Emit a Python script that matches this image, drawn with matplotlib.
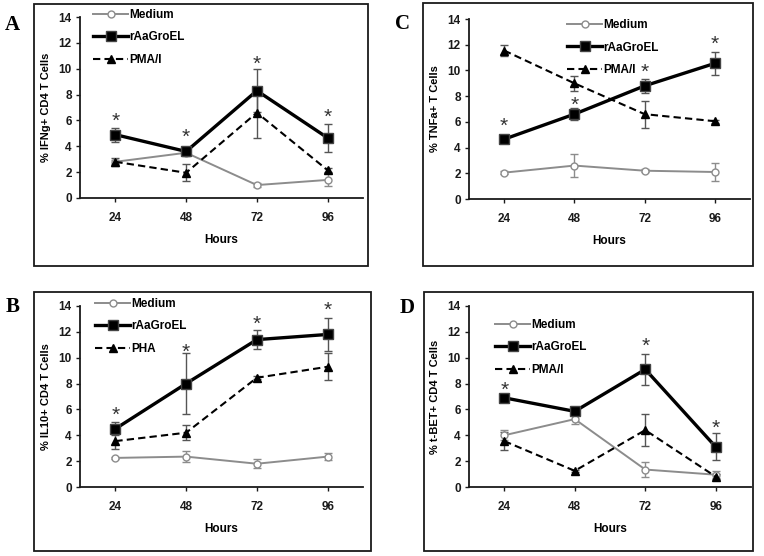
import numpy as np
import matplotlib
matplotlib.use("Agg")
import matplotlib.pyplot as plt
from matplotlib.patches import Rectangle

plt.rcParams['font.family'] = ['Liberation Sans', 'DejaVu Sans']
plt.rcParams['font.weight'] = 'bold'

hours = ['24', '48', '72', '96']

# panel A : IFNg
ifng_medium = [2.8, 3.5, 1.0, 1.4]
ifng_medium_err = [0.15, 0.15, 0.15, 0.5]
ifng_groel = [4.9, 3.6, 8.3, 4.65]
ifng_groel_err = [0.55, 0.35, 1.65, 1.1]
ifng_pma = [2.8, 1.95, 6.6, 2.15]
ifng_pma_err = [0.3, 0.65, 1.95, 0.15]
ifng_stars = [6.37, 5.15, 10.8, 6.7]

# panel C : TNFa
tnfa_medium = [2.05, 2.6, 2.2, 2.1]
tnfa_medium_err = [0.1, 0.9, 0.12, 0.7]
tnfa_groel = [4.65, 6.6, 8.8, 10.55]
tnfa_groel_err = [0.15, 0.45, 0.55, 0.9]
tnfa_pma = [11.55, 9.0, 6.6, 6.05]
tnfa_pma_err = [0.45, 0.6, 1.05, 0.1]
tnfa_stars = [6.09, 7.75, 10.3, 12.5]

# panel B : IL10
il10_medium = [2.25, 2.35, 1.8, 2.35]
il10_medium_err = [0.1, 0.45, 0.35, 0.3]
il10_groel = [4.5, 8.0, 11.4, 11.8]
il10_groel_err = [0.5, 2.35, 0.75, 1.3]
il10_pha = [3.55, 4.2, 8.45, 9.3]
il10_pha_err = [0.6, 0.6, 0.1, 1.05]
il10_stars = [6.0, 10.85, 13.05, 14.1]

# panel D : t-BET
tbet_medium = [4.0, 5.25, 1.35, 0.95]
tbet_medium_err = [0.4, 0.4, 0.55, 0.25]
tbet_groel = [6.9, 5.85, 9.1, 3.1]
tbet_groel_err = [0.2, 0.1, 1.2, 1.05]
tbet_pma = [3.55, 1.25, 4.4, 0.8]
tbet_pma_err = [0.7, 0.1, 1.25, 0.2]
tbet_stars = [7.88, None, 11.3, 4.96]

W, H = 764, 556
fig = plt.figure(figsize=(W / 100, H / 100), dpi=100)
fig.patch.set_facecolor('white')


def px_rect(x0, y0, x1, y1):
    # pixel box (top-left origin) -> figure fraction
    return [x0 / W, 1 - y1 / H, (x1 - x0) / W, (y1 - y0) / H]


def draw_panel(rect, frame, letter, letter_xy, ylabel, medium, medium_err,
               groel, groel_err, third, third_err, third_name, stars, leg_anchor):
    fig.patches.append(Rectangle((frame[0] / W, 1 - frame[3] / H),
                                 (frame[2] - frame[0]) / W, (frame[3] - frame[1]) / H,
                                 transform=fig.transFigure, fill=False,
                                 edgecolor='#1a1a1a', linewidth=1.3))
    fig.text(letter_xy[0] / W, 1 - letter_xy[1] / H, letter, family='Liberation Serif',
             fontsize=15, fontweight='bold', ha='center', va='center')

    ax = fig.add_axes(px_rect(*rect))
    x = np.arange(len(hours))
    # error bars first, lines on top
    ax.errorbar(x, medium, yerr=medium_err, fmt='none', ecolor='#8c8c8c',
                elinewidth=1.0, capsize=3, capthick=1.0)
    ax.errorbar(x, groel, yerr=groel_err, fmt='none', ecolor='#555555',
                elinewidth=1.0, capsize=3, capthick=1.0)
    ax.errorbar(x, third, yerr=third_err, fmt='none', ecolor='#555555',
                elinewidth=1.0, capsize=3, capthick=1.0)
    ax.plot(x, medium, color='#8c8c8c', lw=1.4, marker='o', ms=5, mfc='white',
            mec='#8c8c8c', mew=1.0, label='Medium')
    ax.plot(x, groel, color='black', lw=2.4, marker='s', ms=7, mfc='black',
            mec='#444444', label='rAaGroEL')
    ax.plot(x, third, color='black', lw=1.5, ls=(0, (3.5, 2)), marker='^',
            ms=5.5, mfc='black', mec='black', label=third_name)
    for xi, s in zip(x, stars):
        if s is not None:
            ax.annotate('*', (xi, s), xytext=(0, -4), textcoords='offset points',
                        ha='center', va='center', fontsize=15, fontweight='normal',
                        color='#333333', annotation_clip=False)

    ax.set_xlim(-0.5, 3.5)
    ax.set_ylim(0, 14)
    ax.set_yticks(range(0, 15, 2))
    ax.set_xticks(x)
    ax.set_xticklabels(hours)
    for side in ['top', 'right']:
        ax.spines[side].set_visible(False)
    for side in ['left', 'bottom']:
        ax.spines[side].set_linewidth(1.3)
        ax.spines[side].set_color('#1a1a1a')
    ax.tick_params(axis='both', direction='out', length=3, width=1.0,
                   labelsize=8.5, colors='#1a1a1a')
    ax.tick_params(axis='x', pad=7)
    ax.tick_params(axis='y', pad=3)
    ax.set_xlabel('Hours', fontsize=8.5, fontweight='bold', labelpad=7)
    ax.set_ylabel(ylabel, fontsize=8, fontweight='bold', labelpad=5)

    leg = ax.legend(loc='upper left', bbox_to_anchor=leg_anchor, frameon=False,
                    fontsize=8.5, handlelength=3.0, handletextpad=0.1,
                    labelspacing=0.9, borderpad=0, borderaxespad=0)
    for t in leg.get_texts():
        t.set_fontweight('bold')
    return ax


draw_panel((80, 17, 363, 198), (34, 4, 368, 266), 'A', (12.5, 25),
           '% IFNg+ CD4 T Cells', ifng_medium, ifng_medium_err,
           ifng_groel, ifng_groel_err, ifng_pma, ifng_pma_err, 'PMA/I',
           ifng_stars, (0.046, 1.045))

draw_panel((469, 19, 750, 199), (423, 3, 753, 266), 'C', (402, 24),
           '% TNFa+ T Cells', tnfa_medium, tnfa_medium_err,
           tnfa_groel, tnfa_groel_err, tnfa_pma, tnfa_pma_err, 'PMA/I',
           tnfa_stars, (0.349, 1.0))

draw_panel((80, 306, 363, 487), (34, 292, 371, 551), 'B', (12.5, 307),
           '% IL10+ CD4 T Cells', il10_medium, il10_medium_err,
           il10_groel, il10_groel_err, il10_pha, il10_pha_err, 'PHA',
           il10_stars, (0.053, 1.045))

draw_panel((469, 306, 751, 487), (424, 292, 753, 551), 'D', (407, 308),
           '% t-BET+ CD4 T Cells', tbet_medium, tbet_medium_err,
           tbet_groel, tbet_groel_err, tbet_pma, tbet_pma_err, 'PMA/I',
           tbet_stars, (0.092, 0.93))

fig.savefig('out.png', dpi=100)
